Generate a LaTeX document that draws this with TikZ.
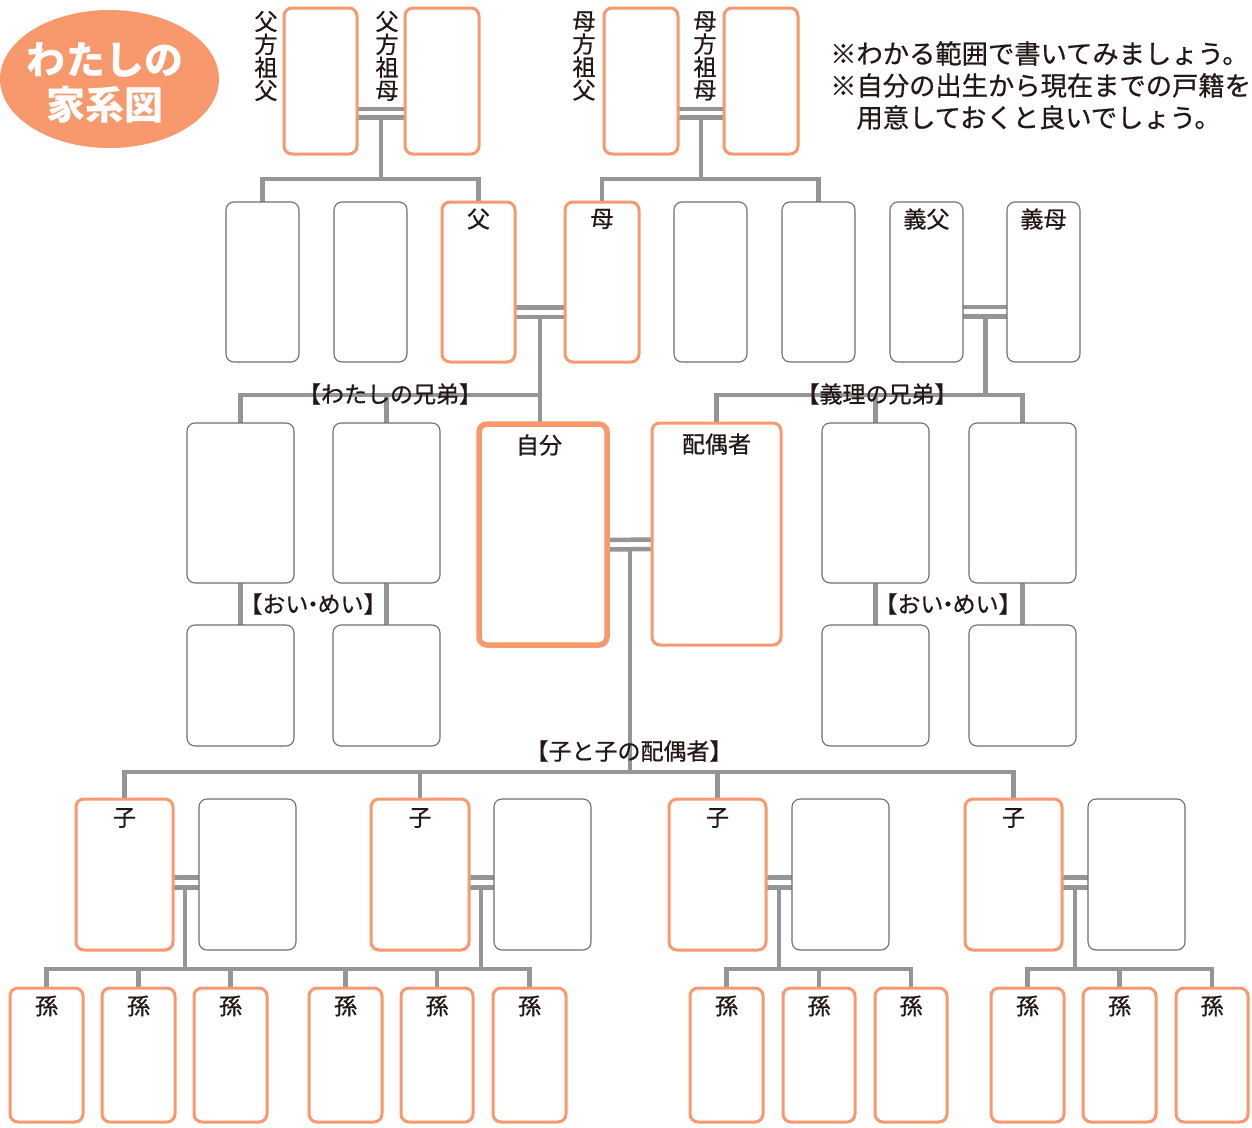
\documentclass[tikz,border=0pt]{standalone}
\usepackage{fontspec}
\newfontfamily\cjk{Noto Sans CJK JP}
\newfontfamily\cjkm{Noto Sans CJK JP}[FakeBold=0.7]
\usetikzlibrary{shapes.geometric,backgrounds}
\definecolor{orng}{HTML}{F7996C}
\definecolor{lgray}{HTML}{939598}
\definecolor{dgray}{HTML}{6D6E71}
\definecolor{ink}{HTML}{231815}
\newcommand\mybox[6]{\node[#1, minimum width={#5-#3-2}, minimum height={#6-#4-2}] (#2) at ({(#3+#5)/2},{(#4+#6)/2}) {};}
\newcommand\mdot{\hspace{-0.3em}・\hspace{-0.3em}}
\begin{document}
\begin{tikzpicture}[x=1pt,y=-1pt,
  conn/.style={draw=lgray, line width=4.5pt},
  basebox/.style={rectangle, rounded corners=8pt, inner sep=0pt, outer sep=0pt, fill=white},
  obox/.style={basebox, draw=orng, line width=3pt},
  sbox/.style={basebox, draw=orng, line width=5.5pt},
  gbox/.style={basebox, draw=dgray, line width=1.1pt},
  lbl/.style={font=\cjkm\fontsize{23}{23}\selectfont, text=ink, inner sep=0pt},
  vlbl/.style={lbl, align=center},
  note/.style={font=\cjkm\fontsize{26.3}{32}\selectfont, text=ink, inner sep=0pt, align=left},
  ttl/.style={font=\cjk\bfseries\fontsize{39}{45}\selectfont, text=white, inner sep=0pt, align=center}]
\useasboundingbox (0,0) rectangle (1252,1127);

% title
\node[ellipse, fill=orng, minimum width=219, minimum height=138, inner sep=0pt] (title) at (109.5,79) {};
\node[ttl] (titletext) at (105,82.5) {わたしの\\家系図};

% notes
\node[note, anchor=north west] (note) at (830,41) {※わかる範囲で書いてみましょう。\\※自分の出生から現在までの戸籍を\\\hspace*{1em}用意しておくと良いでしょう。};

% row 0: grandparents
\mybox{obox}{pgf}{283}{7}{358}{155}
\mybox{obox}{pgm}{404}{7}{480}{155}
\mybox{obox}{mgf}{603}{7}{679}{155}
\mybox{obox}{mgm}{723}{7}{799}{155}
\node[vlbl] (v1) at (266,56) {父\\方\\祖\\父};
\node[vlbl] (v2) at (387,56) {父\\方\\祖\\母};
\node[vlbl] (v3) at (584,56) {母\\方\\祖\\父};
\node[vlbl] (v4) at (705,56) {母\\方\\祖\\母};

% row 1
\mybox{gbox}{pa1}{225}{201}{300}{363}
\mybox{gbox}{pa2}{333}{201}{408}{363}
\mybox{obox}{fa}{441}{201}{516}{363}
\mybox{obox}{mo}{564}{201}{640}{363}
\mybox{gbox}{ma1}{673}{201}{748}{363}
\mybox{gbox}{ma2}{781}{201}{856}{363}
\mybox{gbox}{ifa}{889}{201}{964}{363}
\mybox{gbox}{imo}{1006}{201}{1081}{363}
\node[lbl] (t-fa) at ([yshift=-17pt]fa.north) {父};
\node[lbl] (t-mo) at ([yshift=-17pt]mo.north) {母};
\node[lbl] (t-ifa) at ([yshift=-17pt]ifa.north) {義父};
\node[lbl] (t-imo) at ([yshift=-17pt]imo.north) {義母};

% row 2
\mybox{gbox}{sib1}{186}{422}{295}{584}
\mybox{gbox}{sib2}{332}{422}{441}{584}
\mybox{sbox}{self}{478}{423}{608}{646}
\mybox{obox}{sp}{651}{422}{782}{646}
\mybox{gbox}{isib1}{821}{422}{930}{584}
\mybox{gbox}{isib2}{968}{422}{1077}{584}
\node[lbl] (t-self) at ([xshift=-4pt,yshift=-21pt]self.north) {自分};
\node[lbl] (t-sp) at ([yshift=-21pt]sp.north) {配偶者};

% row 3
\mybox{gbox}{nep1}{186}{624}{295}{747}
\mybox{gbox}{nep2}{332}{624}{441}{747}
\mybox{gbox}{nep3}{821}{624}{930}{747}
\mybox{gbox}{nep4}{968}{624}{1077}{747}

% row 4
\mybox{obox}{c1}{75}{798}{174}{951}
\mybox{gbox}{cs1}{198}{798}{297}{951}
\mybox{obox}{c2}{370}{798}{470}{951}
\mybox{gbox}{cs2}{493}{798}{592}{951}
\mybox{obox}{c3}{668}{798}{767}{951}
\mybox{gbox}{cs3}{791}{798}{890}{951}
\mybox{obox}{c4}{964}{798}{1063}{951}
\mybox{gbox}{cs4}{1087}{798}{1186}{951}
\foreach \n in {c1,c2,c3,c4}{\node[lbl] (t-\n) at ([yshift=-19pt]\n.north) {子};}

% row 5
\mybox{obox}{g1}{9}{987}{84}{1123}
\mybox{obox}{g2}{101}{987}{176}{1123}
\mybox{obox}{g3}{193}{987}{268}{1123}
\mybox{obox}{g4}{308}{987}{383}{1123}
\mybox{obox}{g5}{400}{987}{474}{1123}
\mybox{obox}{g6}{492}{987}{567}{1123}
\mybox{obox}{g7}{689}{987}{764}{1123}
\mybox{obox}{g8}{782}{987}{856}{1123}
\mybox{obox}{g9}{874}{987}{948}{1123}
\mybox{obox}{g10}{990}{987}{1065}{1123}
\mybox{obox}{g11}{1082}{987}{1157}{1123}
\mybox{obox}{g12}{1175}{987}{1249}{1123}
\foreach \n in {g1,g2,g3,g4,g5,g6,g7,g8,g9,g10,g11,g12}{\node[lbl] (t-\n) at ([yshift=-18pt]\n.north) {孫};}

% bracket labels
\node[lbl] (l-sib) at (390,394) {【わたしの兄弟】};
\node[lbl] (l-isib) at (877,394) {【義理の兄弟】};
\node[lbl] (l-nep1) at (313,604) {【おい\mdot めい】};
\node[lbl] (l-nep2) at (948,604) {【おい\mdot めい】};
\node[lbl] (l-ch) at (629,751) {【子と子の配偶者】};

% connectors
\begin{pgfonlayer}{background}
% paternal grandparents
\draw[conn] ([yshift=-28pt]pgf.east) -- ([yshift=-28pt]pgm.west);
\draw[conn] ([yshift=-36.5pt]pgf.east) -- ([yshift=-36.5pt]pgm.west);
\coordinate (pj) at (381,117.5);
\coordinate (pb) at (381,179);
\draw[conn] (pj) -- (pb);
\draw[conn] (pa1.north) -- (pa1.north |- pb) -- (fa.north |- pb) -- (fa.north);
% maternal grandparents
\draw[conn] ([yshift=-28pt]mgf.east) -- ([yshift=-28pt]mgm.west);
\draw[conn] ([yshift=-36.5pt]mgf.east) -- ([yshift=-36.5pt]mgm.west);
\coordinate (mj) at (701,117.5);
\coordinate (mb) at (701,179);
\draw[conn] (mj) -- (mb);
\draw[conn] (mo.north) -- (mo.north |- mb) -- (ma2.north |- mb) -- (ma2.north);
% parents
\draw[conn] ([yshift=-25.5pt]fa.east) -- ([yshift=-25.5pt]mo.west);
\draw[conn] ([yshift=-35pt]fa.east) -- ([yshift=-35pt]mo.west);
\coordinate (fj) at (540,317);
\coordinate (sb) at (540,395);
\draw[conn] (fj) -- (fj |- self.north);
\draw[conn] (sib1.north) -- (sib1.north |- sb) -- (sb);
\draw[conn] (sib2.north) -- (sib2.north |- sb);
% in-laws
\draw[conn] ([yshift=-25pt]ifa.east) -- ([yshift=-25pt]imo.west);
\draw[conn] ([yshift=-34.5pt]ifa.east) -- ([yshift=-34.5pt]imo.west);
\coordinate (ij) at (985.5,316.5);
\coordinate (ib) at (985.5,395);
\draw[conn] (ij) -- (ib);
\draw[conn] (sp.north) -- (sp.north |- ib) -- (isib2.north |- ib) -- (isib2.north);
\draw[conn] (isib1.north) -- (isib1.north |- ib);
% nephews
\draw[conn] (sib1.south) -- (nep1.north);
\draw[conn] (sib2.south) -- (nep2.north);
\draw[conn] (isib1.south) -- (nep3.north);
\draw[conn] (isib2.south) -- (nep4.north);
% self and spouse
\draw[conn] ([yshift=-5.5pt]self.east) -- ([yshift=-5.5pt]sp.west);
\draw[conn] ([yshift=-15pt]self.east) -- ([yshift=-15pt]sp.west);
\coordinate (sj) at (630,549.5);
\coordinate (cb) at (630,772);
\draw[conn] (sj) -- (cb);
\draw[conn] (c1.north) -- (c1.north |- cb) -- (c4.north |- cb) -- (c4.north);
\draw[conn] (c2.north) -- (c2.north |- cb);
\draw[conn] (c3.north) -- (c3.north |- cb);
% children marriages
\foreach \c/\s in {c1/cs1,c2/cs2,c3/cs3,c4/cs4}{
  \draw[conn] ([yshift=-3.2pt]\c.east) -- ([yshift=-3.2pt]\s.west);
  \draw[conn] ([yshift=-12.8pt]\c.east) -- ([yshift=-12.8pt]\s.west);
}
\coordinate (k1) at (185,887);
\coordinate (k2) at (481,887);
\coordinate (k3) at (779,887);
\coordinate (k4) at (1075,887);
\coordinate (gb) at (0,969);
\draw[conn] (k1) -- (k1 |- gb);
\draw[conn] (k2) -- (k2 |- gb);
\draw[conn] (k3) -- (k3 |- gb);
\draw[conn] (k4) -- (k4 |- gb);
\draw[conn] (g1.north) -- (g1.north |- gb) -- (g6.north |- gb) -- (g6.north);
\foreach \g in {g2,g3,g4,g5}{\draw[conn] (\g.north) -- (\g.north |- gb);}
\draw[conn] (g7.north) -- (g7.north |- gb) -- (g9.north |- gb) -- (g9.north);
\draw[conn] (g8.north) -- (g8.north |- gb);
\draw[conn] (g10.north) -- (g10.north |- gb) -- (g12.north |- gb) -- (g12.north);
\draw[conn] (g11.north) -- (g11.north |- gb);
\end{pgfonlayer}
\end{tikzpicture}
\end{document}
